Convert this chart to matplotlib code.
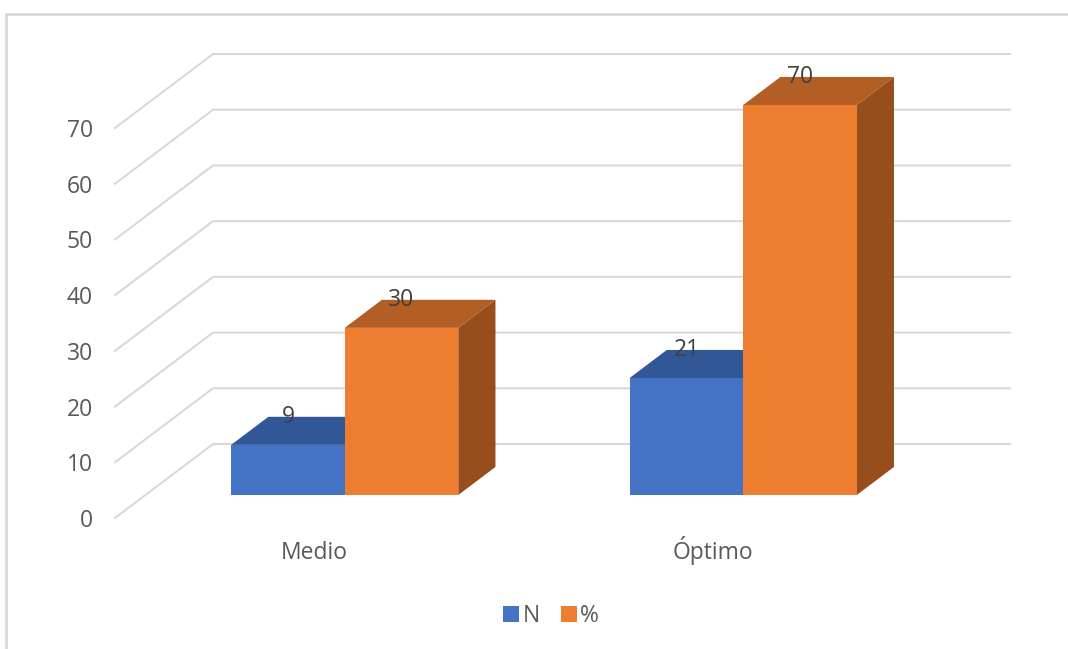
import matplotlib.pyplot as plt
from matplotlib.patches import Polygon, Patch, Rectangle

plt.rcParams['font.family'] = ['Open Sans', 'DejaVu Sans']

categories = ['Medio', 'Óptimo']
series_names = ['N', '%']
values_n = [9, 21]
values_pct = [30, 70]
yticks = [0, 10, 20, 30, 40, 50, 60, 70]

front_cols = ['#4472C4', '#ED7D31']
top_cols = ['#325796', '#B35E24']
side_cols = ['#2A4A80', '#984D1D']
grid_col = '#D9D9D9'

# oblique depth of the floor (category units, value units)
DX, DY = 0.246, 13.28
a, b = 0.311, 0.69      # front / back of the bars as fraction of depth
bw = 0.285              # bar width

fig = plt.figure(figsize=(10.68, 6.49), dpi=100)
ax = fig.add_axes([115 / 1068, 131 / 649, 797 / 1068, 390 / 649])
ax.set_xlim(0, 2)
ax.set_ylim(0, 70)
for s in ax.spines.values():
    s.set_visible(False)
ax.patch.set_visible(False)

ax.set_yticks(yticks)
ax.set_yticklabels([str(t) for t in yticks])
ax.set_xticks([0.5, 1.5])
ax.set_xticklabels(categories, va='baseline')
ax.tick_params(length=0, labelsize=16.5, labelcolor='#595959')
ax.tick_params(axis='y', pad=16)
ax.tick_params(axis='x', pad=29.5)

# gridlines: diagonal on the side wall, horizontal on the back wall
for v in yticks:
    ax.plot([0, DX, 2 + DX], [v, v + DY, v + DY], color=grid_col,
            lw=1.5, clip_on=False, zorder=1)


def bar3d(x0, h, k):
    x1 = x0 + bw
    fx, fy = a * DX, a * DY
    bx, by = b * DX, b * DY
    side = [(x1 + fx, fy), (x1 + bx, by), (x1 + bx, h + by), (x1 + fx, h + fy)]
    top = [(x0 + fx, h + fy), (x1 + fx, h + fy), (x1 + bx, h + by), (x0 + bx, h + by)]
    front = [(x0 + fx, fy), (x1 + fx, fy), (x1 + fx, h + fy), (x0 + fx, h + fy)]
    for pts, c in [(side, side_cols[k]), (top, top_cols[k]), (front, front_cols[k])]:
        ax.add_patch(Polygon(pts, closed=True, facecolor=c, edgecolor='none',
                             clip_on=False, zorder=2))
    ax.text(x0 + fx + bw / 2, h + by, str(h), ha='center', va='center',
            fontsize=16.5, color='#404040', zorder=3, clip_on=False)


for i in range(len(categories)):
    center = i + 0.5
    bar3d(center - bw, values_n[i], 0)
    bar3d(center, values_pct[i], 1)

handles = [Patch(facecolor=front_cols[0], label=series_names[0]),
           Patch(facecolor=front_cols[1], label=series_names[1])]
fig.legend(handles=handles, loc='center', bbox_to_anchor=(551 / 1068, 1 - 616 / 649),
           ncol=2, frameon=False, fontsize=16.5, labelcolor='#595959',
           handlelength=0.7, handleheight=0.7, handletextpad=0.15, columnspacing=0.9)

# chart area border
fig.patches.append(Rectangle((6 / 1068, -0.05), 1.1, 1 - 14 / 649 + 0.05,
                             transform=fig.transFigure, fill=False,
                             edgecolor=grid_col, lw=2))

fig.savefig('out.png', dpi=100)
